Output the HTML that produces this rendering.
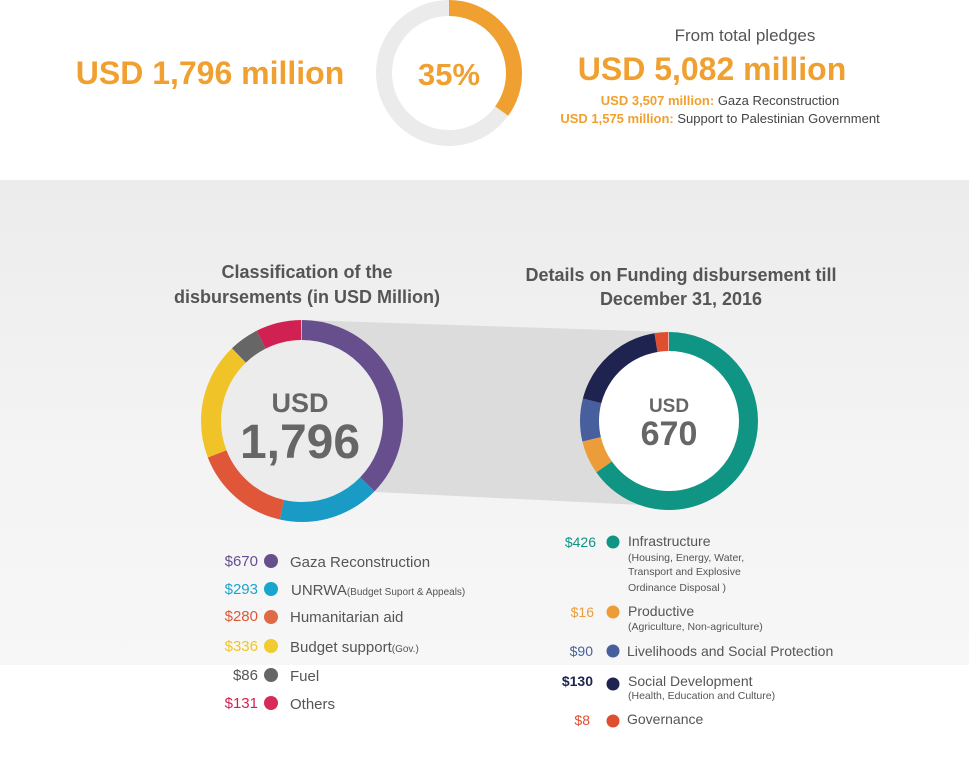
<!DOCTYPE html>
<html><head><meta charset="utf-8"><style>
html,body{margin:0;padding:0;}
body{width:969px;height:765px;overflow:hidden;background:#fff;font-family:"Liberation Sans",sans-serif;}
</style></head><body>
<svg width="969" height="765" viewBox="0 0 969 765" xmlns="http://www.w3.org/2000/svg" font-family="Liberation Sans, sans-serif">
<defs>
<linearGradient id="bg" x1="0" y1="0" x2="0" y2="1">
<stop offset="0" stop-color="#ececec"/><stop offset="0.5" stop-color="#f3f3f3"/><stop offset="1" stop-color="#f7f7f7"/>
</linearGradient>
</defs>
<rect x="0" y="180" width="969" height="485" fill="url(#bg)"/>
<g transform="rotate(-90 449 73)" fill="none" stroke-width="16">
<circle cx="449" cy="73" r="65" stroke="#ebebeb"/>
<circle cx="449" cy="73" r="65" stroke="#f0a030" pathLength="360" stroke-dasharray="126 360"/>
</g>
<text x="449" y="85" text-anchor="middle" font-size="31" font-weight="bold" fill="#f0a030">35%</text>
<text x="210" y="84" text-anchor="middle" font-size="32" font-weight="bold" fill="#f0a030">USD 1,796 million</text>
<text x="745" y="41" text-anchor="middle" font-size="17" fill="#555">From total pledges</text>
<text x="712" y="80" text-anchor="middle" font-size="32" font-weight="bold" fill="#f0a030">USD 5,082 million</text>
<text x="720" y="105" text-anchor="middle" font-size="13" fill="#444"><tspan fill="#f0a030" font-weight="bold">USD 3,507 million:</tspan> Gaza Reconstruction</text>
<text x="720" y="123" text-anchor="middle" font-size="13" fill="#444"><tspan fill="#f0a030" font-weight="bold">USD 1,575 million:</tspan> Support to Palestinian Government</text>
<text x="307" y="278" text-anchor="middle" font-size="18" font-weight="bold" fill="#555">Classification of the</text>
<text x="307" y="303" text-anchor="middle" font-size="18" font-weight="bold" fill="#555">disbursements (in USD Million)</text>
<text x="681" y="281" text-anchor="middle" font-size="18" font-weight="bold" fill="#555">Details on Funding disbursement till</text>
<text x="681" y="305" text-anchor="middle" font-size="18" font-weight="bold" fill="#555">December 31, 2016</text>
<polygon points="302,320 669,332 640,505 375,492" fill="#dcdcdc"/>
<circle cx="302" cy="421" r="92" fill="#ececec"/>
<g transform="rotate(-90 302 421)" fill="none" stroke-width="20">
<circle cx="302" cy="421" r="91" stroke="#674f8e" pathLength="360" stroke-dasharray="134.3 360"/>
<circle cx="302" cy="421" r="91" stroke="#1a9bc6" pathLength="360" stroke-dasharray="58.7 360" stroke-dashoffset="-134.3"/>
<circle cx="302" cy="421" r="91" stroke="#e05638" pathLength="360" stroke-dasharray="56.1 360" stroke-dashoffset="-193"/>
<circle cx="302" cy="421" r="91" stroke="#f0c428" pathLength="360" stroke-dasharray="67.4 360" stroke-dashoffset="-249.1"/>
<circle cx="302" cy="421" r="91" stroke="#666666" pathLength="360" stroke-dasharray="17.2 360" stroke-dashoffset="-316.5"/>
<circle cx="302" cy="421" r="91" stroke="#d12153" pathLength="360" stroke-dasharray="26.3 360" stroke-dashoffset="-333.7"/>
</g>
<text x="300" y="412" text-anchor="middle" font-size="27" font-weight="bold" fill="#666">USD</text>
<text x="300" y="458" text-anchor="middle" font-size="48" font-weight="bold" fill="#666">1,796</text>
<circle cx="669" cy="421" r="80" fill="#fff"/>
<g transform="rotate(-90 669 421)" fill="none" stroke-width="19">
<circle cx="669" cy="421" r="79.5" stroke="#109483" pathLength="360" stroke-dasharray="235 360"/>
<circle cx="669" cy="421" r="79.5" stroke="#ec9c38" pathLength="360" stroke-dasharray="22 360" stroke-dashoffset="-235"/>
<circle cx="669" cy="421" r="79.5" stroke="#475f9c" pathLength="360" stroke-dasharray="28 360" stroke-dashoffset="-257"/>
<circle cx="669" cy="421" r="79.5" stroke="#1f2350" pathLength="360" stroke-dasharray="66 360" stroke-dashoffset="-285"/>
<circle cx="669" cy="421" r="79.5" stroke="#e04e30" pathLength="360" stroke-dasharray="9 360" stroke-dashoffset="-351"/>
</g>
<text x="669" y="412" text-anchor="middle" font-size="19" font-weight="bold" fill="#666">USD</text>
<text x="669" y="445" text-anchor="middle" font-size="34" font-weight="bold" fill="#666">670</text>
<g font-size="15">
<text x="258" y="566" text-anchor="end" fill="#674f8e">$670</text><circle cx="271" cy="561" r="7" fill="#674f8e"/><text x="290" y="567" fill="#555">Gaza Reconstruction</text>
<text x="258" y="594" text-anchor="end" fill="#1aa6cc">$293</text><circle cx="271" cy="589" r="7" fill="#1aa6cc"/><text x="291" y="595" fill="#555">UNRWA<tspan font-size="10">(Budget Suport &amp; Appeals)</tspan></text>
<text x="258" y="621" text-anchor="end" fill="#e05638">$280</text><circle cx="271" cy="617" r="7" fill="#e06a48"/><text x="290" y="622" fill="#555">Humanitarian aid</text>
<text x="258" y="651" text-anchor="end" fill="#f0c428">$336</text><circle cx="271" cy="646" r="7" fill="#f0cc30"/><text x="290" y="652" fill="#555">Budget support<tspan font-size="10">(Gov.)</tspan></text>
<text x="258" y="680" text-anchor="end" fill="#555">$86</text><circle cx="271" cy="675" r="7" fill="#666"/><text x="290" y="681" fill="#555">Fuel</text>
<text x="258" y="708" text-anchor="end" fill="#d12153">$131</text><circle cx="271" cy="703" r="7" fill="#d82a5a"/><text x="290" y="709" fill="#555">Others</text>
</g>
<g font-size="14">
<text x="596" y="547" text-anchor="end" fill="#109483">$426</text><circle cx="613" cy="542" r="6.5" fill="#109483"/><text x="628" y="546" fill="#555">Infrastructure</text>
<text x="628" y="561" font-size="10.5" fill="#555">(Housing, Energy, Water,</text>
<text x="628" y="575" font-size="10.5" fill="#555">Transport and Explosive</text>
<text x="628" y="591" font-size="10.5" fill="#555">Ordinance Disposal )</text>
<text x="594" y="617" text-anchor="end" fill="#ec9c38">$16</text><circle cx="613" cy="612" r="6.5" fill="#ec9c38"/><text x="628" y="616" fill="#555">Productive</text>
<text x="628" y="630" font-size="10.5" fill="#555">(Agriculture, Non-agriculture)</text>
<text x="593" y="656" text-anchor="end" fill="#475f9c">$90</text><circle cx="613" cy="651" r="6.5" fill="#475f9c"/><text x="627" y="656" fill="#555">Livelihoods and Social Protection</text>
<text x="593" y="686" text-anchor="end" fill="#1f2350" font-weight="bold">$130</text><circle cx="613" cy="684" r="6.5" fill="#1f2350"/><text x="628" y="686" fill="#555">Social Development</text>
<text x="628" y="699" font-size="10.5" fill="#555">(Health, Education and Culture)</text>
<text x="590" y="725" text-anchor="end" fill="#e04e30">$8</text><circle cx="613" cy="721" r="6.5" fill="#e04e30"/><text x="627" y="724" fill="#555">Governance</text>
</g>
</svg>
</body></html>
